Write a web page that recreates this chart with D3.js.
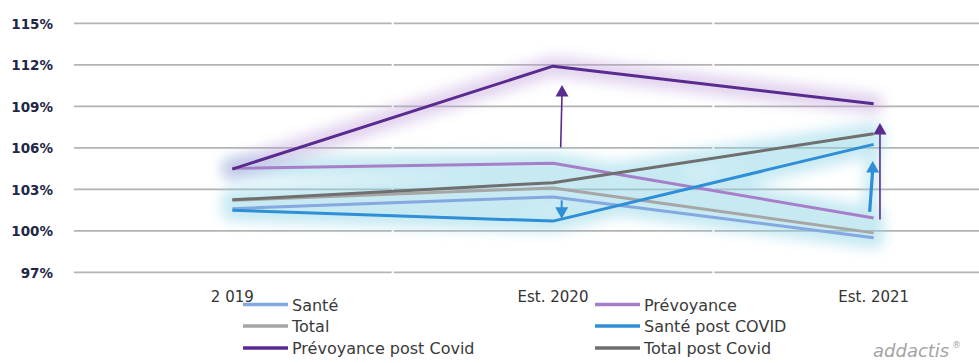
<!DOCTYPE html>
<html>
<head>
<meta charset="utf-8">
<script src="https://cdn.jsdelivr.net/npm/d3@7"></script>
<style>
  html, body { margin: 0; padding: 0; background: #ffffff; }
  svg { display: block; }
  text { font-family: "DejaVu Sans", sans-serif; }
</style>
</head>
<body>
<svg id="chart" width="979" height="363"></svg>
<script>
// Categories and tick values
const categories = ["2 019", "Est. 2020", "Est. 2021"];
const yTicks = [97, 100, 103, 106, 109, 112, 115];

// Series values (%), one array per series
const sante = [101.6, 102.45, 99.5];
const prevoyance = [104.52, 104.88, 100.92];
const total = [102.2, 103.1, 99.85];
const santePostCovid = [101.48, 100.7, 106.25];
const prevoyancePostCovid = [104.46, 111.9, 109.18];
const totalPostCovid = [102.24, 103.48, 107.02];

const seriesNames = ["Santé", "Prévoyance", "Total", "Santé post COVID", "Prévoyance post Covid", "Total post Covid"];
const seriesValues = [sante, prevoyance, total, santePostCovid, prevoyancePostCovid, totalPostCovid];
const seriesColors = ["#84a8e0", "#a77fc9", "#a6a6a6", "#2f8fd6", "#5a2b8f", "#6f6f6f"];

// Arrows showing the Covid shift (category, start value, end value)
const arrowCats = ["Est. 2020", "Est. 2020", "Est. 2021", "Est. 2021"];
const arrowFrom = [106.03, 102.2, 101.36, 100.81];
const arrowTo = [110.54, 100.88, 105.05, 107.79];

const svg = d3.select("#chart");
const defs = svg.append("defs");
defs.append("filter").attr("id", "softGlow")
  .attr("x", "-20%").attr("y", "-60%").attr("width", "140%").attr("height", "220%")
  .append("feGaussianBlur").attr("stdDeviation", 6.5);

const x = d3.scaleBand().domain(categories).range([72, 1034]);
const cx = c => x(c) + x.bandwidth() / 2;
const y = d3.scaleLinear().domain([97, 115]).range([272.3, 23.3]);

// Horizontal gridlines, broken at each category boundary
const grid = svg.append("g");
yTicks.forEach(t => {
  categories.forEach(c => {
    grid.append("line")
      .attr("x1", x(c) + (c === categories[0] ? 2 : 1))
      .attr("x2", x(c) + x.bandwidth() - 1)
      .attr("y1", y(t)).attr("y2", y(t))
      .attr("stroke", "#b3b3b3").attr("stroke-width", 1.8);
  });
});

// Y axis labels
const yAxis = d3.axisLeft(y).tickValues(yTicks).tickFormat(d => d + "%").tickSize(0).tickPadding(0);
const yG = svg.append("g").attr("transform", "translate(53,0)").call(yAxis);
yG.select(".domain").remove();
yG.selectAll("text")
  .attr("font-family", "DejaVu Sans").attr("font-size", 13.5).attr("font-weight", "bold")
  .attr("fill", "#1e2745").attr("dy", "0.36em");

// X axis labels
const xAxis = d3.axisBottom(x).tickSize(0).tickPadding(0);
const xG = svg.append("g").attr("transform", "translate(0,302)").call(xAxis);
xG.select(".domain").remove();
xG.selectAll("text")
  .attr("font-family", "DejaVu Sans").attr("font-size", 15).attr("fill", "#333333")
  .attr("dy", 0).attr("y", 0);

const line = d3.line().x((d, i) => cx(categories[i])).y(d => y(d));

// Soft glow behind the lines
const glowLower = svg.append("g").attr("filter", "url(#softGlow)").attr("opacity", 0.5);
[0, 1, 2, 3, 5].forEach(k => {
  glowLower.append("path").attr("d", line(seriesValues[k]))
    .attr("fill", "none").attr("stroke", "#8fd4e6").attr("stroke-width", 22)
    .attr("stroke-linecap", "round").attr("stroke-linejoin", "round");
});
glowLower.append("line")
  .attr("x1", cx("Est. 2021") - 4).attr("x2", cx("Est. 2021") - 1)
  .attr("y1", y(arrowFrom[2])).attr("y2", y(arrowTo[2]))
  .attr("stroke", "#8fd4e6").attr("stroke-width", 14).attr("stroke-linecap", "round");
svg.append("g").attr("filter", "url(#softGlow)").attr("opacity", 0.45)
  .append("path").attr("d", line(prevoyancePostCovid))
  .attr("fill", "none").attr("stroke", "#bd9bd9").attr("stroke-width", 20)
  .attr("stroke-linecap", "round").attr("stroke-linejoin", "round");

// Series lines
seriesValues.forEach((vals, k) => {
  svg.append("path").attr("d", line(vals))
    .attr("fill", "none").attr("stroke", seriesColors[k]).attr("stroke-width", 3)
    .attr("stroke-linejoin", "round");
});

// Arrows
const arrowStyle = [
  { color: "#5a2b8f", w: 1.6, dx0: 7.7, dx1: 9 },
  { color: "#2f8fd6", w: 2, dx0: 8.7, dx1: 8.7 },
  { color: "#2f8fd6", w: 3.2, dx0: -4, dx1: -1 },
  { color: "#5a2b8f", w: 1.6, dx0: 6.3, dx1: 6.3 }
];
arrowCats.forEach((c, i) => {
  const s = arrowStyle[i];
  const x0 = cx(c) + s.dx0, x1 = cx(c) + s.dx1;
  const y0 = y(arrowFrom[i]), y1 = y(arrowTo[i]);
  const dir = y1 < y0 ? 1 : -1;      // 1 = pointing up
  const headLen = 11.5, headHalf = 6.5;
  svg.append("line")
    .attr("x1", x0).attr("y1", y0)
    .attr("x2", x1).attr("y2", y1 + dir * headLen * 0.8)
    .attr("stroke", s.color).attr("stroke-width", s.w);
  svg.append("path")
    .attr("d", `M${x1},${y1} L${x1 - headHalf},${y1 + dir * headLen} L${x1 + headHalf},${y1 + dir * headLen} Z`)
    .attr("fill", s.color);
});

// Legend, two columns by three rows
const legendCols = [243, 595];
const legendRows = [304.5, 326, 348];
seriesNames.forEach((name, k) => {
  const lx = legendCols[k % 2], ly = legendRows[Math.floor(k / 2)];
  svg.append("line").attr("x1", lx).attr("x2", lx + 45).attr("y1", ly).attr("y2", ly)
    .attr("stroke", seriesColors[k]).attr("stroke-width", 3.5);
  svg.append("text").attr("x", lx + 49).attr("y", ly + 6.3)
    .attr("font-size", 16).attr("fill", "#3a3a3a").text(name);
});

// Brand mark
svg.append("text").attr("x", 873).attr("y", 357)
  .attr("font-size", 18).attr("font-style", "italic").attr("fill", "#a3a3a3")
  .text("addactis");
svg.append("text").attr("x", 952).attr("y", 348)
  .attr("font-size", 9).attr("fill", "#a3a3a3").text("®");
</script>
</body>
</html>
